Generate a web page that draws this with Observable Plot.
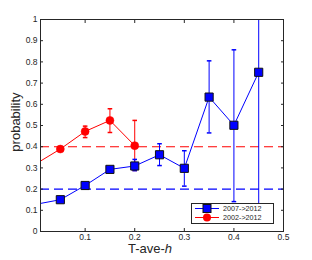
<!DOCTYPE html>
<html><head><meta charset="utf-8">
<script src="https://cdn.jsdelivr.net/npm/d3@7"></script>
<script src="https://cdn.jsdelivr.net/npm/@observablehq/plot@0.6"></script>
<style>
body{margin:0;background:#fff;font-family:"Liberation Sans",Arial,sans-serif;}
#wrap{position:relative;width:312px;height:260px;}
#xl{position:absolute;left:0;width:312px;top:243px;line-height:12px;text-align:center;font-size:13px;color:#262626;text-indent:-12px;}
#yl{position:absolute;left:15px;top:122px;transform:translate(-50%,-50%) rotate(-90deg);font-size:13px;line-height:13px;color:#262626;white-space:nowrap;}
#leg{position:absolute;left:191px;top:203px;width:81px;height:19px;border:1px solid #262626;background:#fff;font-size:7.2px;color:#262626;}
#leg div{display:flex;align-items:center;height:9px;}
#leg svg{margin-left:3px;margin-right:4px;}
</style></head><body>
<div id="wrap"></div>
<script>
const xs = [0, 0.05, 0.10, 0.15, 0.20, 0.25, 0.30, 0.35, 0.40, 0.45];
const blue = [0.128, 0.150, 0.217, 0.293, 0.309, 0.362, 0.298, 0.634, 0.501, 0.751];
const blueLo = [null, 0.145, 0.21, 0.285, 0.287, 0.311, 0.214, 0.465, 0.141, 0.12];
const blueHi = [null, 0.155, 0.225, 0.30, 0.340, 0.414, 0.381, 0.805, 0.857, 1.2];
const redX = [0, 0.05, 0.10, 0.15, 0.20];
const red = [0.318, 0.389, 0.472, 0.524, 0.405];
const redLo = [null, 0.383, 0.443, 0.467, 0.288];
const redHi = [null, 0.395, 0.497, 0.579, 0.524];
const baseBlue = 0.2, baseRed = 0.4;
const xTicks = [0.1, 0.2, 0.3, 0.4, 0.5];
const yTicks = [0, 0.1, 0.2, 0.3, 0.4, 0.5, 0.6, 0.7, 0.8, 0.9, 1];
const series = ["2007->2012", "2002->2012"];

const B = xs.map((x, i) => ({x, y: blue[i], lo: blueLo[i], hi: blueHi[i]}));
const R = redX.map((x, i) => ({x, y: red[i], lo: redLo[i], hi: redHi[i]}));
const cap = {draw(ctx, size){ const w = 2.3; ctx.moveTo(-w, 0); ctx.lineTo(w, 0); }};
const ink = "#262626";

const chart = Plot.plot({
  width: 312, height: 260,
  marginLeft: 40, marginRight: 29, marginTop: 19, marginBottom: 29,
  style: {fontFamily: "'Liberation Sans', Arial, sans-serif", fontSize: "8.5px", color: ink, background: "#fff"},
  x: {domain: [0.01, 0.5]},
  y: {domain: [0, 1]},
  marks: [
    Plot.ruleY([baseRed], {stroke: "#ff0000", strokeWidth: 1.1, strokeDasharray: "9,5"}),
    Plot.ruleY([baseBlue], {stroke: "#0000ff", strokeWidth: 1.1, strokeDasharray: "9,5"}),
    Plot.line(R, {x: "x", y: "y", stroke: "#ff0000", strokeWidth: 1, clip: true}),
    Plot.line(B, {x: "x", y: "y", stroke: "#0000ff", strokeWidth: 1, clip: true}),
    Plot.ruleX(R.filter(d => d.lo != null), {x: "x", y1: "lo", y2: "hi", stroke: "#ff0000", strokeWidth: 1, clip: true}),
    Plot.ruleX(B.filter(d => d.lo != null), {x: "x", y1: "lo", y2: "hi", stroke: "#0000ff", strokeWidth: 1, clip: true}),
    Plot.dot(R.filter(d => d.lo != null), {x: "x", y: "lo", symbol: cap, stroke: "#ff0000", fill: "none", r: 3}),
    Plot.dot(R.filter(d => d.lo != null), {x: "x", y: "hi", symbol: cap, stroke: "#ff0000", fill: "none", r: 3}),
    Plot.dot(B.filter(d => d.lo != null), {x: "x", y: "lo", symbol: cap, stroke: "#0000ff", fill: "none", r: 3}),
    Plot.dot(B.filter(d => d.lo != null && d.hi <= 1), {x: "x", y: "hi", symbol: cap, stroke: "#0000ff", fill: "none", r: 3}),
    Plot.dot(R.filter(d => d.x > 0), {x: "x", y: "y", r: 4, fill: "#ff0000", stroke: "#ff0000", strokeWidth: 0.5}),
    Plot.dot(B.filter(d => d.x > 0), {x: "x", y: "y", symbol: "square", r: 4.6, fill: "#0000ff", stroke: "#111", strokeWidth: 1}),
    Plot.axisX(xTicks, {anchor: "bottom", tickSize: -3, tickPadding: 5, tickFormat: d => String(d), stroke: ink, fill: ink, label: null}),
    Plot.axisX(xTicks, {anchor: "top", tickSize: -3, tickFormat: () => "", stroke: ink, label: null}),
    Plot.axisY(yTicks, {anchor: "left", tickSize: -3, tickPadding: 6, tickFormat: d => String(d), stroke: ink, fill: ink, label: null}),
    Plot.axisY(yTicks, {anchor: "right", tickSize: -3, tickFormat: () => "", stroke: ink, label: null}),
    Plot.frame({stroke: ink, strokeWidth: 1})
  ]
});
const wrap = document.getElementById("wrap");
wrap.appendChild(chart);
const yl = document.createElement("div"); yl.id = "yl"; yl.textContent = "probability"; wrap.appendChild(yl);
const xl = document.createElement("div"); xl.id = "xl"; xl.innerHTML = "T-ave-<i>h</i>"; wrap.appendChild(xl);
const leg = document.createElement("div"); leg.id = "leg";
leg.innerHTML =
  `<div><svg width="24" height="9"><line x1="0" x2="24" y1="4.5" y2="4.5" stroke="#0000ff"/><rect x="8" y="0.5" width="8" height="8" fill="#0000ff" stroke="#111"/></svg>${series[0].replace(">", "&gt;")}</div>` +
  `<div><svg width="24" height="9"><line x1="0" x2="24" y1="4.5" y2="4.5" stroke="#ff0000"/><circle cx="12" cy="4.5" r="4" fill="#ff0000"/></svg>${series[1].replace(">", "&gt;")}</div>`;
wrap.appendChild(leg);
</script>
</body></html>
